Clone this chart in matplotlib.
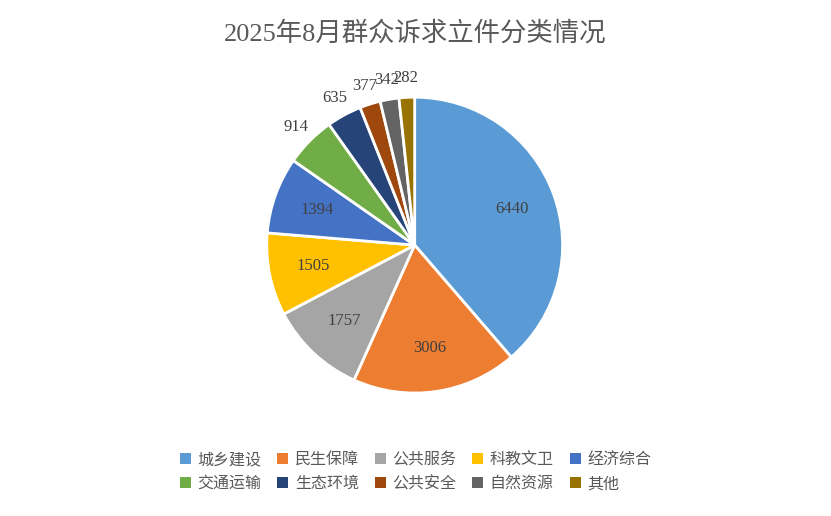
import matplotlib.pyplot as plt
from matplotlib.patches import Patch
import numpy as np

plt.rcParams["font.family"] = ["Liberation Serif", "Noto Sans CJK SC"]

categories = ["城乡建设", "民生保障", "公共服务", "科教文卫", "经济综合",
              "交通运输", "生态环境", "公共安全", "自然资源", "其他"]
values = [6440, 3006, 1757, 1505, 1394, 914, 635, 377, 342, 282]
colors = ["#5B9BD5", "#ED7D31", "#A5A5A5", "#FFC000", "#4472C4",
          "#70AD47", "#264478", "#9E480E", "#636363", "#997300"]

fig = plt.figure(figsize=(8.31, 5.16), dpi=100)
ax = fig.add_axes([0.321, 0.238, 0.356, 0.574])
wedges, texts = ax.pie(values, colors=colors, startangle=90, counterclock=False,
                       wedgeprops=dict(edgecolor="white", linewidth=2),
                       labels=[str(v) for v in values], labeldistance=None)
ax.set_aspect("equal")
ax.set_xlim(-1, 1)
ax.set_ylim(-1, 1)

for w, v in zip(wedges, values):
    ang = np.deg2rad((w.theta1 + w.theta2) / 2)
    r = 0.7 if v > 1000 else 1.13
    ax.text(r * np.cos(ang), r * np.sin(ang), str(v), ha="center", va="center",
            fontsize=12, color="#404040")

fig.text(0.5, 0.935, "2025年8月群众诉求立件分类情况", ha="center", va="center",
         fontsize=19, color="#595959")

handles = [Patch(facecolor=c, edgecolor="none") for c in colors]
order = [0, 5, 1, 6, 2, 7, 3, 8, 4, 9]
fig.legend([handles[i] for i in order], [categories[i] for i in order],
           loc="center", bbox_to_anchor=(0.5, 0.085), ncol=5, frameon=False,
           fontsize=11.5, handlelength=0.7, handleheight=0.7, handletextpad=0.4,
           columnspacing=1.0, labelspacing=0.5, labelcolor="#595959")

fig.savefig("out.png", dpi=100)
